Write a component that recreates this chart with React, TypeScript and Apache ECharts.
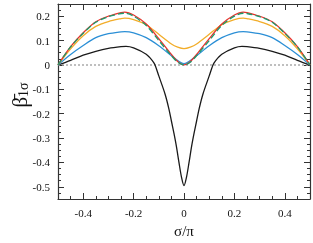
import React, { useEffect, useRef } from "react";
import * as echarts from "echarts";

const xMain = [-0.5, -0.45, -0.4, -0.35, -0.3, -0.25, -0.235, -0.2, -0.15, -0.1, -0.05, -0.025, 0, 0.025, 0.05, 0.1, 0.15, 0.2, 0.235, 0.25, 0.3, 0.35, 0.4, 0.45, 0.5];
const redY = [0, 0.075, 0.132, 0.177, 0.2, 0.215, 0.217, 0.205, 0.168, 0.108, 0.043, 0.014, 0, 0.014, 0.043, 0.108, 0.168, 0.205, 0.217, 0.215, 0.2, 0.177, 0.132, 0.075, 0];
const greenY = [0, 0.074, 0.13, 0.175, 0.198, 0.211, 0.212, 0.2, 0.162, 0.1, 0.038, 0.011, 0, 0.011, 0.038, 0.1, 0.162, 0.2, 0.212, 0.211, 0.198, 0.175, 0.13, 0.074, 0];
const orangeY = [0, 0.066, 0.12, 0.158, 0.178, 0.19, 0.192, 0.186, 0.165, 0.126, 0.086, 0.073, 0.067, 0.073, 0.086, 0.126, 0.165, 0.186, 0.192, 0.19, 0.178, 0.158, 0.12, 0.066, 0];
const blueY = [0, 0.043, 0.08, 0.112, 0.128, 0.136, 0.137, 0.132, 0.112, 0.079, 0.038, 0.018, 0.005, 0.018, 0.038, 0.079, 0.112, 0.132, 0.137, 0.136, 0.128, 0.112, 0.08, 0.043, 0];

const xBlack = [-0.5, -0.45, -0.4, -0.35, -0.3, -0.25, -0.23, -0.2, -0.15, -0.125, -0.115, -0.1, -0.075, -0.06, -0.05, -0.04, -0.03, -0.02, -0.01, 0, 0.01, 0.02, 0.03, 0.04, 0.05, 0.06, 0.075, 0.1, 0.115, 0.125, 0.15, 0.2, 0.23, 0.25, 0.3, 0.35, 0.4, 0.45, 0.5];
const blackY = [0, 0.019, 0.04, 0.056, 0.068, 0.075, 0.076, 0.07, 0.044, 0.017, 0, -0.045, -0.12, -0.18, -0.23, -0.28, -0.335, -0.4, -0.46, -0.495, -0.46, -0.4, -0.335, -0.28, -0.23, -0.18, -0.12, -0.045, 0, 0.017, 0.044, 0.07, 0.076, 0.075, 0.068, 0.056, 0.04, 0.019, 0];

const zeroX = [-0.5, 0.5];
const zeroY = [0, 0];

const xMajorTicks = [-0.4, -0.2, 0, 0.2, 0.4];
const yMajorTicks = [-0.5, -0.4, -0.3, -0.2, -0.1, 0, 0.1, 0.2];

const zip = (xs: number[], ys: number[]) => xs.map((x, i) => [x, ys[i]]);

const FONT = "Liberation Serif";
const AX = "#333";

export default function App() {
  const ref = useRef<HTMLDivElement>(null);
  useEffect(() => {
    if (!ref.current) return;
    const chart = echarts.init(ref.current, null, { renderer: "svg" });
    const xBase = {
      type: "value",
      min: -0.5,
      max: 0.5,
      splitLine: { show: false },
    };
    const yBase = {
      type: "value",
      min: -0.55,
      max: 0.25,
      splitLine: { show: false },
    };
    const minorX = (pos: string, labels: boolean) => ({
      ...xBase,
      position: pos,
      interval: 0.05,
      axisLine: { show: true, onZero: false, lineStyle: { color: AX, width: 1.2 } },
      axisTick: { show: true, inside: true, length: 3, lineStyle: { color: AX } },
      axisLabel: labels
        ? {
            show: true,
            margin: 8,
            fontFamily: FONT,
            fontSize: 11,
            color: "#111",
            formatter: (v: number) => {
              const k = Math.round(v * 1000);
              if (k % 200 !== 0 || Math.abs(k) >= 500) return "";
              return String(k / 1000);
            },
          }
        : { show: false },
    });
    const majorX = (pos: string) => ({
      ...xBase,
      position: pos,
      axisLine: { show: false, onZero: false },
      axisTick: { show: true, inside: true, length: 6, customValues: xMajorTicks, lineStyle: { color: AX } },
      axisLabel: { show: false },
    });
    const minorY = (pos: string, labels: boolean) => ({
      ...yBase,
      position: pos,
      interval: 0.025,
      axisLine: { show: true, onZero: false, lineStyle: { color: AX, width: 1.2 } },
      axisTick: { show: true, inside: true, length: 3, lineStyle: { color: AX } },
      axisLabel: labels
        ? {
            show: true,
            margin: 8,
            fontFamily: FONT,
            fontSize: 11,
            color: "#111",
            formatter: (v: number) => {
              const k = Math.round(v * 1000);
              if (k % 100 !== 0) return "";
              return String(k / 1000);
            },
          }
        : { show: false },
    });
    const majorY = (pos: string) => ({
      ...yBase,
      position: pos,
      axisLine: { show: false, onZero: false },
      axisTick: { show: true, inside: true, length: 6, customValues: yMajorTicks, lineStyle: { color: AX } },
      axisLabel: { show: false },
    });

    const line = (data: number[][], color: string, z: number, dashed = false) => ({
      type: "line",
      data,
      showSymbol: false,
      smooth: 0.3,
      z,
      lineStyle: { color, width: 1.3, type: dashed ? [6, 3] : "solid" },
    });

    chart.setOption({
      animation: false,
      grid: { left: 58, right: 2, top: 4, bottom: 38, containLabel: false },
      xAxis: [
        {
          ...minorX("bottom", true),
          name: "σ/π",
          nameLocation: "middle",
          nameGap: 24,
          nameTextStyle: { fontFamily: FONT, fontSize: 15, color: "#111" },
        },
        majorX("bottom"),
        minorX("top", false),
        majorX("top"),
      ],
      yAxis: [minorY("left", true), majorY("left"), minorY("right", false), majorY("right")],
      graphic: [
        {
          type: "text",
          x: 19,
          y: 95,
          rotation: Math.PI / 2,
          style: {
            text: "{b|β̄}{s|1σ}",
            align: "center",
            verticalAlign: "middle",
            rich: {
              b: { fontFamily: FONT, fontSize: 21, lineHeight: 22, fill: "#111", verticalAlign: "bottom" },
              s: { fontFamily: FONT, fontSize: 14, lineHeight: 6, fill: "#111", verticalAlign: "bottom" },
            },
          },
        },
      ],
      series: [
        {
          type: "line",
          data: zip(zeroX, zeroY),
          showSymbol: false,
          z: 1,
          lineStyle: { color: "#aaa", width: 1.5, type: [2, 2] },
        },
        line(zip(xBlack, blackY), "#1a1a1a", 2),
        line(zip(xMain, blueY), "#2b8fd6", 3),
        line(zip(xMain, orangeY), "#f2ad2a", 4),
        line(zip(xMain, redY), "#e8322c", 5),
        line(zip(xMain, greenY), "#1c9a6c", 6, true),
      ],
    });
    return () => chart.dispose();
  }, []);
  return <div ref={ref} style={{ position: "fixed", left: 0, top: 0, width: 313, height: 243 }} />;
}
